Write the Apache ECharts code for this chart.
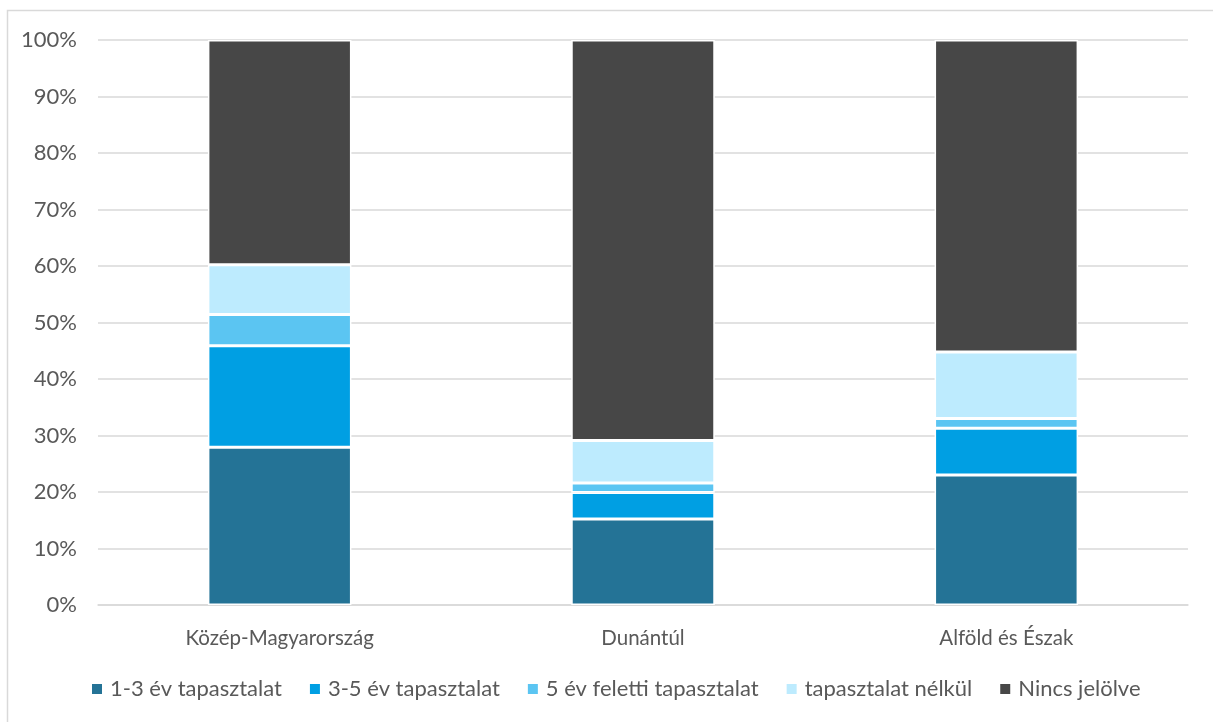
<!DOCTYPE html>
<html>
<head>
<meta charset="utf-8">
<script src="https://cdn.jsdelivr.net/npm/echarts@6/dist/echarts.min.js"></script>
<style>
  html, body { margin: 0; padding: 0; background: #ffffff; }
  #chart { width: 1213px; height: 722px; }
</style>
</head>
<body>
<div id="chart"></div>
<script>
// Régiók
const categories = ['Közép-Magyarország', 'Dunántúl', 'Alföld és Észak'];

// Megoszlás (%) tapasztalat szerint
const seriesNames = ['1-3 év tapasztalat', '3-5 év tapasztalat', '5 év feletti tapasztalat', 'tapasztalat nélkül', 'Nincs jelölve'];
const exp1to3   = [27.9, 15.2, 23.0];
const exp3to5   = [18.0, 4.7, 8.3];
const expOver5  = [5.5, 1.7, 1.7];
const noExp     = [8.8, 7.5, 11.8];
const notMarked = [39.8, 70.9, 55.2];

const yTicks = [0, 10, 20, 30, 40, 50, 60, 70, 80, 90, 100];

const colors = ['#247396', '#009FE3', '#5BC5F2', '#BDEBFE', '#474747'];
const values = [exp1to3, exp3to5, expOver5, noExp, notMarked];

const textColor = '#595959';
const fontFamily = 'Lato, Open Sans, sans-serif';

const chart = echarts.init(document.getElementById('chart'), null, { renderer: 'canvas' });

chart.setOption({
  backgroundColor: '#ffffff',
  animation: false,
  textStyle: { fontFamily: fontFamily },
  graphic: [{
    type: 'rect',
    shape: { x: 7.5, y: 10.5, width: 1230, height: 740 },
    style: { fill: 'none', stroke: '#d9d9d9', lineWidth: 1.5 },
    silent: true,
    z: -10
  }],
  legend: {
    bottom: 17,
    left: 85,
    itemWidth: 12,
    itemHeight: 12,
    itemGap: 26,
    icon: 'rect',
    textStyle: { color: textColor, fontSize: 22, fontFamily: fontFamily, padding: [0, 0, 0, 2] },
    data: seriesNames
  },
  grid: { left: 98, right: 25, top: 40, bottom: 117, containLabel: false },
  xAxis: {
    type: 'category',
    data: categories,
    axisLine: { show: true, lineStyle: { color: '#d9d9d9', width: 1.5 } },
    axisTick: { show: false },
    axisLabel: { color: textColor, fontSize: 20.5, margin: 23, fontFamily: fontFamily }
  },
  yAxis: {
    type: 'value',
    min: yTicks[0],
    max: yTicks[yTicks.length - 1],
    interval: 10,
    axisLine: { show: false },
    axisTick: { show: false },
    splitLine: { lineStyle: { color: '#d9d9d9', width: 1.5 } },
    axisLabel: { color: textColor, fontSize: 22, margin: 21, formatter: v => v + '%', fontFamily: fontFamily }
  },
  series: seriesNames.map((name, i) => ({
    name: name,
    type: 'bar',
    stack: 'total',
    barWidth: '39.5%',
    data: values[i],
    itemStyle: { color: colors[i], borderColor: '#ffffff', borderWidth: 1.5 }
  }))
});
</script>
</body>
</html>
